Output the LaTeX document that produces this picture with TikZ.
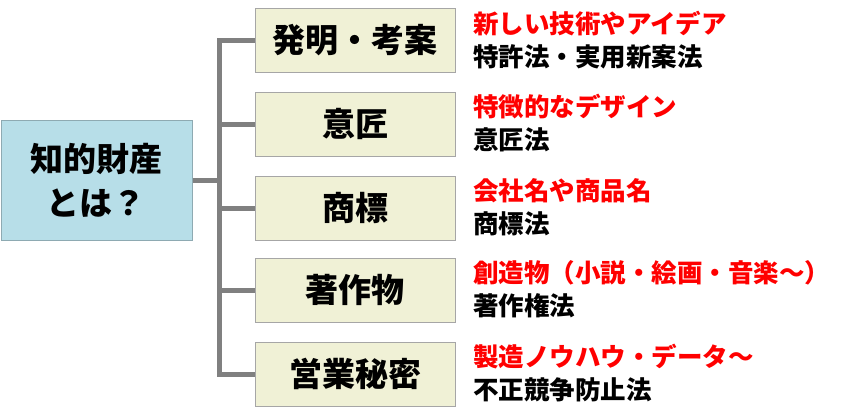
\documentclass[tikz,border=0pt]{standalone}
\usepackage{fontspec}
\setmainfont{NotoSansCJKjp-Regular}[BoldFont={NotoSansCJKjp-Black}]
\definecolor{boxfill}{HTML}{F0F1D6}
\definecolor{boxline}{HTML}{A6A6A6}
\definecolor{mainfill}{HTML}{B7DEE8}
\definecolor{mainline}{HTML}{8EAAB2}
\definecolor{conn}{HTML}{808080}
\definecolor{redtext}{HTML}{FF0000}
\tikzset{
  catbox/.style={draw=boxline, line width=1pt, fill=boxfill, minimum width=200pt, minimum height=64pt, inner sep=0pt, font=\fontsize{33}{38}\selectfont\bfseries},
  mainbox/.style={draw=mainline, line width=1pt, fill=mainfill, minimum width=191pt, minimum height=120pt, inner sep=0pt, align=center, font=\fontsize{33}{44}\selectfont\bfseries},
  redlabel/.style={anchor=west, inner sep=0pt, text=redtext, font=\fontsize{25.5}{28}\selectfont\bfseries},
  blacklabel/.style={anchor=west, inner sep=0pt, text=black, font=\fontsize{25.5}{28}\selectfont\bfseries},
  connector/.style={draw=conn, line width=5pt}
}
\begin{document}
\begin{tikzpicture}[x=1pt, y=-1pt]
\useasboundingbox (0,0) rectangle (845,415);
\node[mainbox] (main) at (96.5,180) {知的財産\\とは？};
\coordinate (trunk) at (222,180);
\node[catbox] (c1) at (355,40) {発明・考案};
\node[catbox] (c2) at (355,124) {意匠};
\node[catbox] (c3) at (355,208) {商標};
\node[catbox] (c4) at (355,290) {著作物};
\node[catbox] (c5) at (355,374) {営業秘密};
\coordinate (t1) at (222,40);
\coordinate (t5) at (222,374);
\draw[connector] (main.east) -- (trunk);
\draw[connector] (t1 -| c1.west) -- ([xshift=-2.5pt]t1) -- ([xshift=-2.5pt]t5) -- (t5 -| c5.west);
\foreach \i in {2,3,4} {\draw[connector] (trunk |- c\i.west) -- (c\i.west);}
\node[redlabel] (r1) at (473,24) {新しい技術やアイデア};
\node[blacklabel] (b1) at (473,57) {特許法・実用新案法};
\node[redlabel] (r2) at (473,107) {特徴的なデザイン};
\node[blacklabel] (b2) at (473,140) {意匠法};
\node[redlabel] (r3) at (473,191) {会社名や商品名};
\node[blacklabel] (b3) at (473,224) {商標法};
\node[redlabel] (r4) at (473,273) {創造物（小説・絵画・音楽～）};
\node[blacklabel] (b4) at (473,306) {著作権法};
\node[redlabel] (r5) at (473,357) {製造ノウハウ・データ～};
\node[blacklabel] (b5) at (473,390) {不正競争防止法};
\end{tikzpicture}
\end{document}
